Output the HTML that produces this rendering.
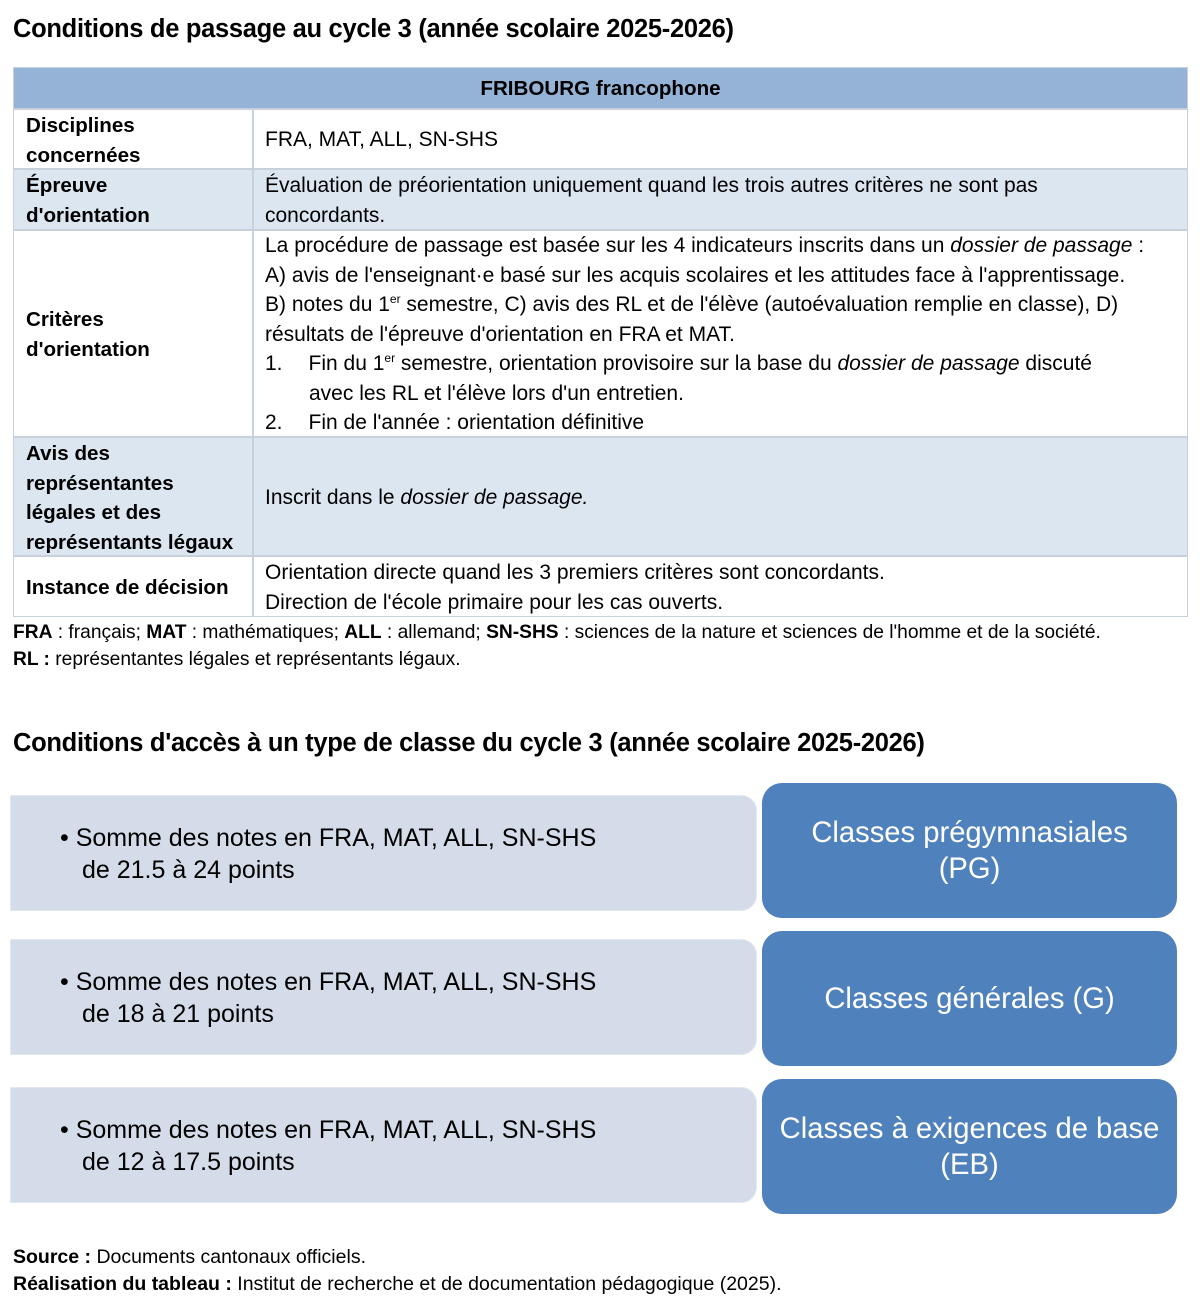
<!DOCTYPE html>
<html><head><meta charset="utf-8"><style>
*{margin:0;padding:0;box-sizing:border-box}
body{width:1200px;height:1311px;background:#fff;font-family:"Liberation Sans",sans-serif;color:#000;position:relative;overflow:hidden}
.a{position:absolute;white-space:nowrap}
h1{position:absolute;left:13px;font-size:25.5px;font-weight:bold;letter-spacing:-0.3px;white-space:nowrap}
.cell{position:absolute;border:1px solid #c8d0dc}
.t{font-size:21px;line-height:29.5px}
.b{font-weight:bold;font-size:20.6px}
sup{font-size:12px;line-height:0;vertical-align:8px}
.lb{position:absolute;left:10px;width:747px;height:116px;background:#d5dce9;border:1px solid #e2e7f0;border-radius:0 16px 16px 0}
.rb{position:absolute;left:762px;width:415px;height:135px;background:#4f81bd;border-radius:20px;color:#fff;font-size:29.2px;line-height:36px;display:flex;align-items:center;justify-content:center;text-align:center}
.lt{position:absolute;left:60px;font-size:25px;line-height:32px;white-space:nowrap}
</style></head><body>
<h1 style="top:15px">Conditions de passage au cycle 3 (année scolaire 2025-2026)</h1>

<div class="cell" style="left:13px;top:67px;width:1175px;height:42px;background:#95b3d7"></div>
<div class="a t b" style="left:13px;width:1175px;top:74px;text-align:center">FRIBOURG francophone</div>

<div class="cell" style="left:13px;top:109px;width:240px;height:60px"></div>
<div class="cell" style="left:253px;top:109px;width:935px;height:60px"></div>
<div class="cell" style="left:13px;top:169px;width:240px;height:61px;background:#dce6f1"></div>
<div class="cell" style="left:253px;top:169px;width:935px;height:61px;background:#dce6f1"></div>
<div class="cell" style="left:13px;top:230px;width:240px;height:207px"></div>
<div class="cell" style="left:253px;top:230px;width:935px;height:207px"></div>
<div class="cell" style="left:13px;top:437px;width:240px;height:119px;background:#dce6f1"></div>
<div class="cell" style="left:253px;top:437px;width:935px;height:119px;background:#dce6f1"></div>
<div class="cell" style="left:13px;top:556px;width:240px;height:61px"></div>
<div class="cell" style="left:253px;top:556px;width:935px;height:61px"></div>

<div class="a t b" style="left:26px;top:111px">Disciplines<br>concernées</div>
<div class="a t" style="left:265px;top:125px">FRA, MAT, ALL, SN-SHS</div>
<div class="a t b" style="left:26px;top:171px">Épreuve<br>d'orientation</div>
<div class="a t" style="left:265px;top:171px">Évaluation de préorientation uniquement quand les trois autres critères ne sont pas<br>concordants.</div>
<div class="a t b" style="left:26px;top:305px">Critères<br>d'orientation</div>
<div class="a t" style="left:265px;top:231px">La procédure de passage est basée sur les 4 indicateurs inscrits dans un <i>dossier de passage</i> :<br>A) avis de l'enseignant·e basé sur les acquis scolaires et les attitudes face à l'apprentissage.<br>B) notes du 1<sup>er</sup> semestre, C) avis des RL et de l'élève (autoévaluation remplie en classe), D)<br>résultats de l'épreuve d'orientation en FRA et MAT.<br>1.<span style="display:inline-block;width:26px"></span>Fin du 1<sup>er</sup> semestre, orientation provisoire sur la base du <i>dossier de passage</i> discuté<br><span style="padding-left:44px">avec les RL et l'élève lors d'un entretien.</span><br>2.<span style="display:inline-block;width:26px"></span>Fin de l'année : orientation définitive</div>
<div class="a t b" style="left:26px;top:439px">Avis des<br>représentantes<br>légales et des<br>représentants légaux</div>
<div class="a t" style="left:265px;top:483px">Inscrit dans le <i>dossier de passage.</i></div>
<div class="a t b" style="left:26px;top:573px">Instance de décision</div>
<div class="a t" style="left:265px;top:558px">Orientation directe quand les 3 premiers critères sont concordants.<br>Direction de l'école primaire pour les cas ouverts.</div>

<div class="a" style="left:13px;top:619px;font-size:19.2px;line-height:27px"><b>FRA</b> : français; <b>MAT</b> : mathématiques; <b>ALL</b> : allemand; <b>SN-SHS</b> : sciences de la nature et sciences de l'homme et de la société.<br><b>RL :</b> représentantes légales et représentants légaux.</div>

<h1 style="top:729px">Conditions d'accès à un type de classe du cycle 3 (année scolaire 2025-2026)</h1>

<div class="lb" style="top:795px"></div>
<div class="lt" style="top:822px">•&nbsp;Somme des notes en FRA, MAT, ALL, SN-SHS<br><span style="padding-left:22px">de 21.5 à 24 points</span></div>
<div class="rb" style="top:783px">Classes prégymnasiales<br>(PG)</div>

<div class="lb" style="top:939px"></div>
<div class="lt" style="top:966px">•&nbsp;Somme des notes en FRA, MAT, ALL, SN-SHS<br><span style="padding-left:22px">de 18 à 21 points</span></div>
<div class="rb" style="top:931px">Classes générales (G)</div>

<div class="lb" style="top:1087px"></div>
<div class="lt" style="top:1114px">•&nbsp;Somme des notes en FRA, MAT, ALL, SN-SHS<br><span style="padding-left:22px">de 12 à 17.5 points</span></div>
<div class="rb" style="top:1079px">Classes à exigences de base<br>(EB)</div>

<div class="a" style="left:13px;top:1244px;font-size:19.5px;line-height:27px"><b>Source :</b> Documents cantonaux officiels.<br><b>Réalisation du tableau :</b> Institut de recherche et de documentation pédagogique (2025).</div>
</body></html>
